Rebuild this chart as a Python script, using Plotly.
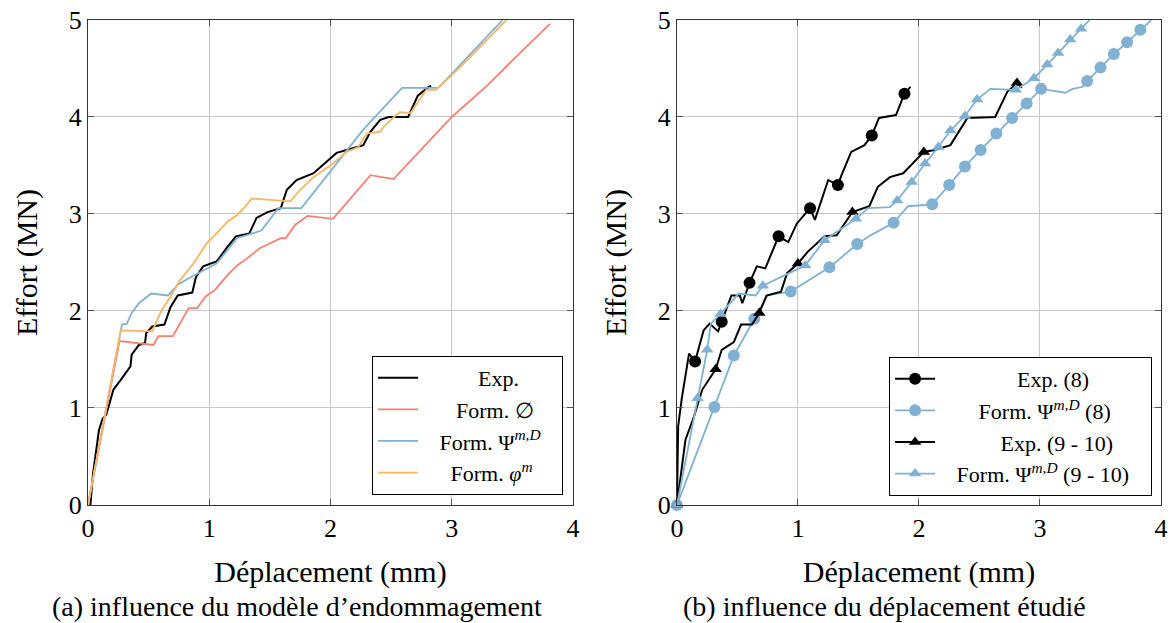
import plotly.graph_objects as go
from plotly.subplots import make_subplots

# ---- (a) influence du modèle d'endommagement ----
exp_x = [0.02, 0.04, 0.09, 0.12, 0.15, 0.21, 0.27, 0.35, 0.36, 0.42, 0.47, 0.48, 0.53, 0.63, 0.68, 0.74,
         0.86, 0.89, 0.95, 1.06, 1.15, 1.22, 1.33, 1.39, 1.48, 1.59, 1.64, 1.72, 1.86, 1.97, 2.05, 2.22,
         2.27, 2.33, 2.41, 2.48, 2.64, 2.72, 2.81, 2.83]
exp_y = [0.0, 0.31, 0.77, 0.89, 0.93, 1.19, 1.29, 1.43, 1.55, 1.65, 1.67, 1.77, 1.84, 1.86, 2.04, 2.16,
         2.19, 2.35, 2.46, 2.51, 2.66, 2.77, 2.80, 2.96, 3.02, 3.06, 3.25, 3.35, 3.42, 3.54, 3.63, 3.69,
         3.71, 3.85, 3.97, 4.00, 4.00, 4.22, 4.31, 4.32]

vide_x = [0.0, 0.26, 0.54, 0.58, 0.70, 0.83, 0.90, 0.97, 1.05, 1.15, 1.23, 1.31, 1.42, 1.50, 1.59, 1.63,
          1.71, 1.81, 2.02, 2.33, 2.52, 3.00, 3.29, 3.53, 3.81]
vide_y = [0.0, 1.69, 1.65, 1.74, 1.74, 2.03, 2.03, 2.15, 2.22, 2.37, 2.47, 2.54, 2.65, 2.70, 2.75, 2.75,
          2.89, 2.98, 2.95, 3.40, 3.36, 4.00, 4.32, 4.62, 4.96]

psi_x = [0.0, 0.28, 0.32, 0.36, 0.42, 0.52, 0.66, 0.74, 0.85, 0.95, 1.06, 1.23, 1.43, 1.57, 1.76, 2.27,
         2.59, 2.89, 3.42]
psi_y = [0.0, 1.86, 1.87, 1.98, 2.08, 2.18, 2.16, 2.27, 2.35, 2.42, 2.49, 2.75, 2.83, 3.06, 3.06, 3.87,
         4.30, 4.30, 5.0]

phi_x = [0.0, 0.27, 0.53, 0.60, 0.68, 0.76, 0.87, 0.98, 1.06, 1.15, 1.23, 1.30, 1.35, 1.67, 1.75, 1.86,
         2.02, 2.13, 2.23, 2.30, 2.41, 2.46, 2.57, 2.66, 2.79, 2.87, 3.09, 3.45]
phi_y = [0.0, 1.80, 1.79, 1.99, 2.15, 2.32, 2.49, 2.70, 2.80, 2.92, 2.99, 3.08, 3.16, 3.13, 3.25, 3.38,
         3.52, 3.64, 3.69, 3.83, 3.85, 3.93, 4.05, 4.04, 4.28, 4.28, 4.54, 5.0]

# ---- (b) influence du déplacement étudié ----
exp8_x = [0.0, 0.01, 0.04, 0.10, 0.15, 0.22, 0.27, 0.34, 0.37, 0.45, 0.52, 0.54, 0.60, 0.66, 0.73, 0.84,
          0.92, 0.99, 1.10, 1.14, 1.25, 1.33, 1.36, 1.44, 1.55, 1.61, 1.67, 1.81, 1.88, 1.93]
exp8_y = [0.0, 0.81, 1.10, 1.56, 1.48, 1.80, 1.87, 1.79, 1.89, 2.16, 2.16, 2.08, 2.29, 2.46, 2.44, 2.77,
          2.71, 2.90, 3.06, 2.94, 3.35, 3.30, 3.40, 3.64, 3.71, 3.81, 3.99, 4.02, 4.24, 4.31]
exp8_mx = [0.15, 0.37, 0.60, 0.84, 1.10, 1.33, 1.61, 1.88]
exp8_my = [1.48, 1.89, 2.29, 2.77, 3.06, 3.30, 3.81, 4.24]

psi8_x = [0.0, 0.31, 0.47, 0.64, 0.75, 0.83, 0.94, 1.26, 1.49, 1.60, 1.79, 1.91, 2.11, 2.25, 2.38, 2.51,
          2.64, 2.77, 2.89, 3.01, 3.21, 3.27, 3.35, 3.39, 3.50, 3.61, 3.72, 3.83, 3.92]
psi8_y = [0.0, 1.01, 1.54, 1.92, 2.16, 2.18, 2.20, 2.45, 2.69, 2.78, 2.91, 3.08, 3.10, 3.30, 3.49, 3.66,
          3.83, 3.99, 4.14, 4.29, 4.25, 4.29, 4.31, 4.37, 4.51, 4.65, 4.77, 4.90, 5.0]
psi8_mx = [0.0, 0.31, 0.47, 0.64, 0.94, 1.26, 1.49, 1.79, 2.11, 2.25, 2.38, 2.51, 2.64, 2.77, 2.89, 3.01,
           3.39, 3.50, 3.61, 3.72, 3.83]
psi8_my = [0.0, 1.01, 1.54, 1.92, 2.20, 2.45, 2.69, 2.91, 3.10, 3.30, 3.49, 3.66, 3.83, 3.99, 4.14, 4.29,
           4.37, 4.51, 4.65, 4.77, 4.90]

exp910_x = [0.0, 0.07, 0.14, 0.21, 0.32, 0.37, 0.47, 0.53, 0.62, 0.68, 0.74, 0.86, 0.91, 1.00, 1.08, 1.22,
            1.32, 1.45, 1.59, 1.66, 1.76, 1.87, 2.04, 2.13, 2.26, 2.40, 2.63, 2.73, 2.81, 2.85]
exp910_y = [0.0, 0.67, 0.91, 1.19, 1.40, 1.60, 1.68, 1.86, 1.86, 1.98, 2.16, 2.20, 2.39, 2.49, 2.61, 2.77,
            2.78, 3.02, 3.08, 3.28, 3.38, 3.42, 3.64, 3.66, 3.71, 3.99, 4.00, 4.26, 4.35, 4.30]
exp910_mx = [0.0, 0.32, 0.68, 1.00, 1.45, 2.04, 2.81]
exp910_my = [0.0, 1.40, 1.98, 2.49, 3.02, 3.64, 4.35]

psi910_x = [0.0, 0.17, 0.25, 0.28, 0.36, 0.51, 0.65, 0.71, 1.06, 1.22, 1.48, 1.58, 1.76, 1.82, 1.94, 2.05,
            2.16, 2.26, 2.38, 2.48, 2.59, 2.80, 2.95, 3.06, 3.15, 3.25, 3.34, 3.41]
psi910_y = [0.0, 1.10, 1.60, 1.87, 1.97, 2.18, 2.16, 2.26, 2.47, 2.73, 2.95, 3.06, 3.07, 3.14, 3.33, 3.52,
            3.69, 3.86, 4.01, 4.18, 4.29, 4.28, 4.40, 4.54, 4.66, 4.80, 4.91, 5.0]
psi910_mx = [0.0, 0.17, 0.25, 0.36, 0.71, 1.06, 1.22, 1.48, 1.82, 1.94, 2.05, 2.16, 2.26, 2.38, 2.48,
             2.80, 2.95, 3.06, 3.15, 3.25, 3.34]
psi910_my = [0.0, 1.10, 1.60, 1.97, 2.26, 2.47, 2.73, 2.95, 3.14, 3.33, 3.52, 3.69, 3.86, 4.01, 4.18,
             4.28, 4.40, 4.54, 4.66, 4.80, 4.91]

BLACK = '#000000'
RED = '#fb8072'
BLUE = '#80b1d3'
ORANGE = '#fdb462'
FONT = 'Liberation Serif'
SP = '\u00a0'  # used to centre the legend texts like the LaTeX legend

fig = make_subplots(rows=1, cols=2, horizontal_spacing=0.09)

# left panel
left = [(exp_x, exp_y, BLACK, SP * 10 + 'Exp.'),
        (vide_x, vide_y, RED, SP * 6 + 'Form. ∅'),
        (psi_x, psi_y, BLUE, SP * 3 + 'Form. Ψ<sup><i>m,D</i></sup>' + SP * 3),
        (phi_x, phi_y, ORANGE, SP * 5 + 'Form. <i>φ</i><sup><i>m</i></sup>')]
for x, y, c, name in left:
    fig.add_trace(go.Scatter(x=x, y=y, mode='lines', name=name,
                             line=dict(color=c, width=2 if c == BLACK else 1.8),
                             legend='legend'), row=1, col=1)

# right panel
right = [(exp8_x, exp8_y, exp8_mx, exp8_my, BLACK, 'circle', SP * 14 + 'Exp. (8)'),
         (psi8_x, psi8_y, psi8_mx, psi8_my, BLUE, 'circle', SP * 7 + 'Form. Ψ<sup><i>m,D</i></sup> (8)'),
         (exp910_x, exp910_y, exp910_mx, exp910_my, BLACK, 'triangle-up', SP * 11 + 'Exp. (9 - 10)'),
         (psi910_x, psi910_y, psi910_mx, psi910_my, BLUE, 'triangle-up',
          SP * 3 + 'Form. Ψ<sup><i>m,D</i></sup> (9 - 10)' + SP * 3)]
for x, y, mx, my, c, sym, name in right:
    lw = 2 if c == BLACK else 1.8
    msize = 12 if sym == 'circle' else 11
    fig.add_trace(go.Scatter(x=x, y=y, mode='lines', line=dict(color=c, width=lw),
                             showlegend=False, legendgroup=name), row=1, col=2)
    fig.add_trace(go.Scatter(x=mx, y=my, mode='markers', cliponaxis=False,
                             marker=dict(color=c, symbol=sym, size=msize),
                             showlegend=False, legendgroup=name), row=1, col=2)
    fig.add_trace(go.Scatter(x=[None], y=[None], mode='lines+markers', name=name,
                             line=dict(color=c, width=lw),
                             marker=dict(color=c, symbol=sym, size=msize),
                             legendgroup=name, legend='legend2'), row=1, col=2)

axis_style = dict(range=[0, 4], dtick=1, showgrid=True, gridcolor='#c8c8c8', gridwidth=1,
                  showline=True, linecolor='#333333', linewidth=1.2, mirror='ticks',
                  ticks='inside', ticklen=6, tickcolor='#555555', zeroline=False, automargin=False,
                  tickfont=dict(family=FONT, size=26, color='black'))
fig.update_xaxes(**axis_style)
fig.update_yaxes(**{**axis_style, 'range': [0, 5]})

fig.update_xaxes(domain=[0.0751, 0.4889], row=1, col=1)
fig.update_xaxes(domain=[0.5776, 0.9906], row=1, col=2)
fig.update_yaxes(domain=[0.1894, 0.9679])
fig.update_xaxes(title=dict(text='Déplacement (mm)', font=dict(family=FONT, size=30), standoff=18))
fig.update_yaxes(title=dict(text='Effort (MN)', font=dict(family=FONT, size=30), standoff=22))

legend_style = dict(font=dict(family=FONT, size=22, color='black'), bgcolor='white',
                    bordercolor='black', borderwidth=1, yanchor='bottom', xanchor='right',
                    itemwidth=40, tracegroupgap=0)
fig.update_layout(
    width=1172, height=623,
    margin=dict(l=0, r=0, t=0, b=0),
    plot_bgcolor='white', paper_bgcolor='white',
    font=dict(family=FONT, color='black'),
    legend=dict(x=0.4804, y=0.2055, **legend_style),
    legend2=dict(x=0.983, y=0.2039, **legend_style),
    annotations=[
        dict(text='(a) influence du modèle d’endommagement', x=0.253, y=0.026, xref='paper', yref='paper',
             xanchor='center', yanchor='middle', showarrow=False, font=dict(family=FONT, size=28)),
        dict(text='(b) influence du déplacement étudié', x=0.755, y=0.026, xref='paper', yref='paper',
             xanchor='center', yanchor='middle', showarrow=False, font=dict(family=FONT, size=28)),
    ],
)

fig.write_html('out.html', config={'displayModeBar': False},
               post_script="document.body.style.margin='0';")
